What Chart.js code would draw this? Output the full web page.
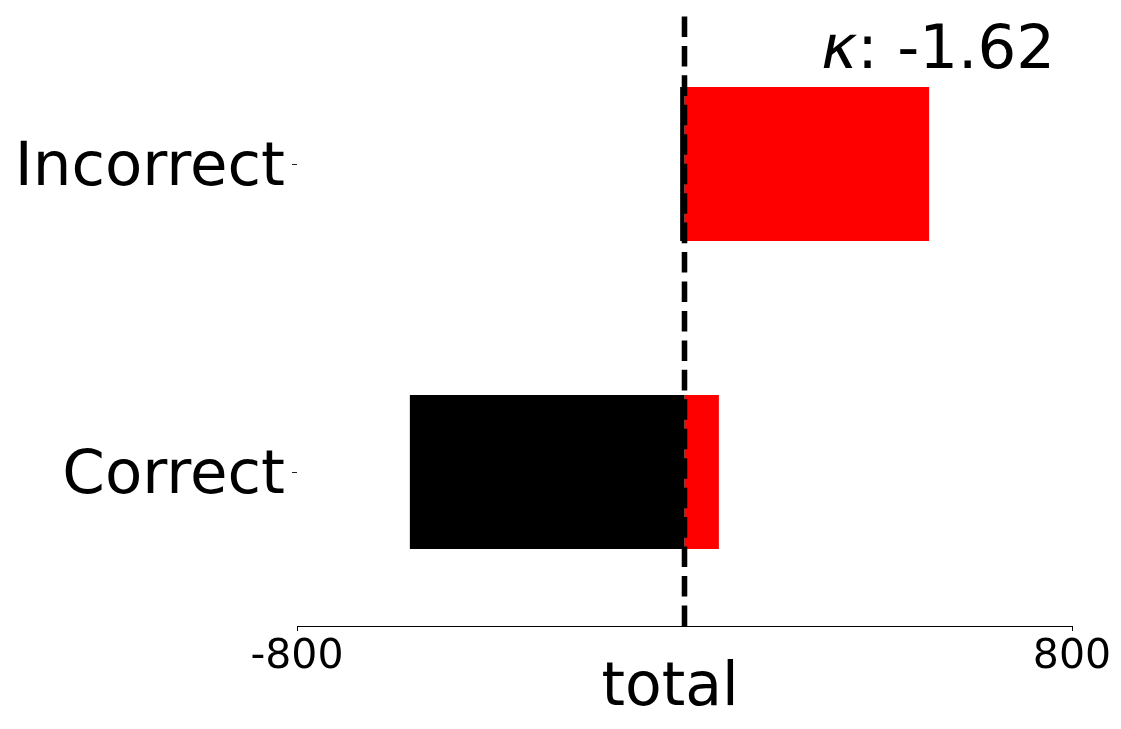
<!DOCTYPE html>
<html>
<head>
<meta charset="utf-8">
<script src="https://cdn.jsdelivr.net/npm/chart.js@4"></script>
<style>
  html, body { margin: 0; padding: 0; background: #fff; }
  #wrap { width: 1121px; height: 729px; }
</style>
</head>
<body>
<div id="wrap"><canvas id="c" width="1121" height="729"></canvas></div>
<script>
// ---- data ----
const categories = ['Incorrect', 'Correct'];
const negativeValues = [-9, -567];   // black bars
const positiveValues = [505, 71];    // red bars
const xTickValues = [-800, 800];
const xAxisTitle = 'total';
const kappaSymbol = 'κ';
const kappaText = ': -1.62';
const refLineValue = 0;

const FONT = '"DejaVu Sans", sans-serif';

const refLinePlugin = {
  id: 'refLine',
  afterDatasetsDraw(chart) {
    const { ctx, chartArea, scales } = chart;
    const x = scales.x.getPixelForValue(refLineValue);
    ctx.save();
    ctx.strokeStyle = '#000';
    ctx.lineWidth = 5.56;
    ctx.setLineDash([20.56, 8.89]);
    ctx.lineCap = 'butt';
    ctx.beginPath();
    ctx.moveTo(x, chartArea.bottom);
    ctx.lineTo(x, chartArea.top);
    ctx.stroke();
    ctx.restore();
  }
};

const textPlugin = {
  id: 'texts',
  afterDraw(chart) {
    const { ctx } = chart;
    ctx.save();
    ctx.fillStyle = '#000';
    ctx.textBaseline = 'alphabetic';
    // kappa annotation
    ctx.textAlign = 'left';
    const rightX = 1055, baseY = 68;
    ctx.font = '61px ' + FONT;
    const w2 = ctx.measureText(kappaText).width;
    ctx.font = 'italic 61px ' + FONT;
    const w1 = ctx.measureText(kappaSymbol).width;
    const startX = rightX - w2 - w1;
    ctx.fillText(kappaSymbol, startX, baseY);
    ctx.font = '61px ' + FONT;
    ctx.fillText(kappaText, startX + w1, baseY);
    // x-axis title
    ctx.textAlign = 'center';
    ctx.font = '60px ' + FONT;
    ctx.fillText(xAxisTitle, 670, 705);
    ctx.restore();
  }
};

new Chart(document.getElementById('c'), {
  type: 'bar',
  data: {
    labels: categories,
    datasets: [
      { data: negativeValues, backgroundColor: '#000000', borderWidth: 0,
        barPercentage: 0.5, categoryPercentage: 1.0 },
      { data: positiveValues, backgroundColor: '#ff0000', borderWidth: 0,
        barPercentage: 0.5, categoryPercentage: 1.0 }
    ]
  },
  options: {
    indexAxis: 'y',
    responsive: false,
    animation: false,
    devicePixelRatio: 1,
    layout: { padding: { top: 10, right: 49, left: 0, bottom: 0 } },
    plugins: { legend: { display: false }, tooltip: { enabled: false } },
    scales: {
      x: {
        stacked: true,
        min: -800, max: 800,
        afterBuildTicks(scale) { scale.ticks = xTickValues.map(v => ({ value: v })); },
        afterFit(scale) { scale.height = 103; },
        ticks: {
          color: '#000', font: { family: FONT, size: 41 }, padding: 2,
          maxRotation: 0, autoSkip: false,
          callback: (v) => String(v)
        },
        grid: { drawOnChartArea: false, drawTicks: true, tickLength: 5, color: '#000', lineWidth: 1 },
        border: { display: true, color: '#000', width: 1 },
        title: { display: false }
      },
      y: {
        stacked: true,
        afterFit(scale) { scale.width = 297; scale.paddingTop = 0; scale.paddingBottom = 0; },
        ticks: { color: '#000', font: { family: FONT, size: 61 }, padding: 7, labelOffset: 5 },
        grid: { drawOnChartArea: false, drawTicks: true, tickLength: 5, color: '#222', lineWidth: 1, offset: false },
        border: { display: false }
      }
    }
  },
  plugins: [refLinePlugin, textPlugin]
});
</script>
</body>
</html>
